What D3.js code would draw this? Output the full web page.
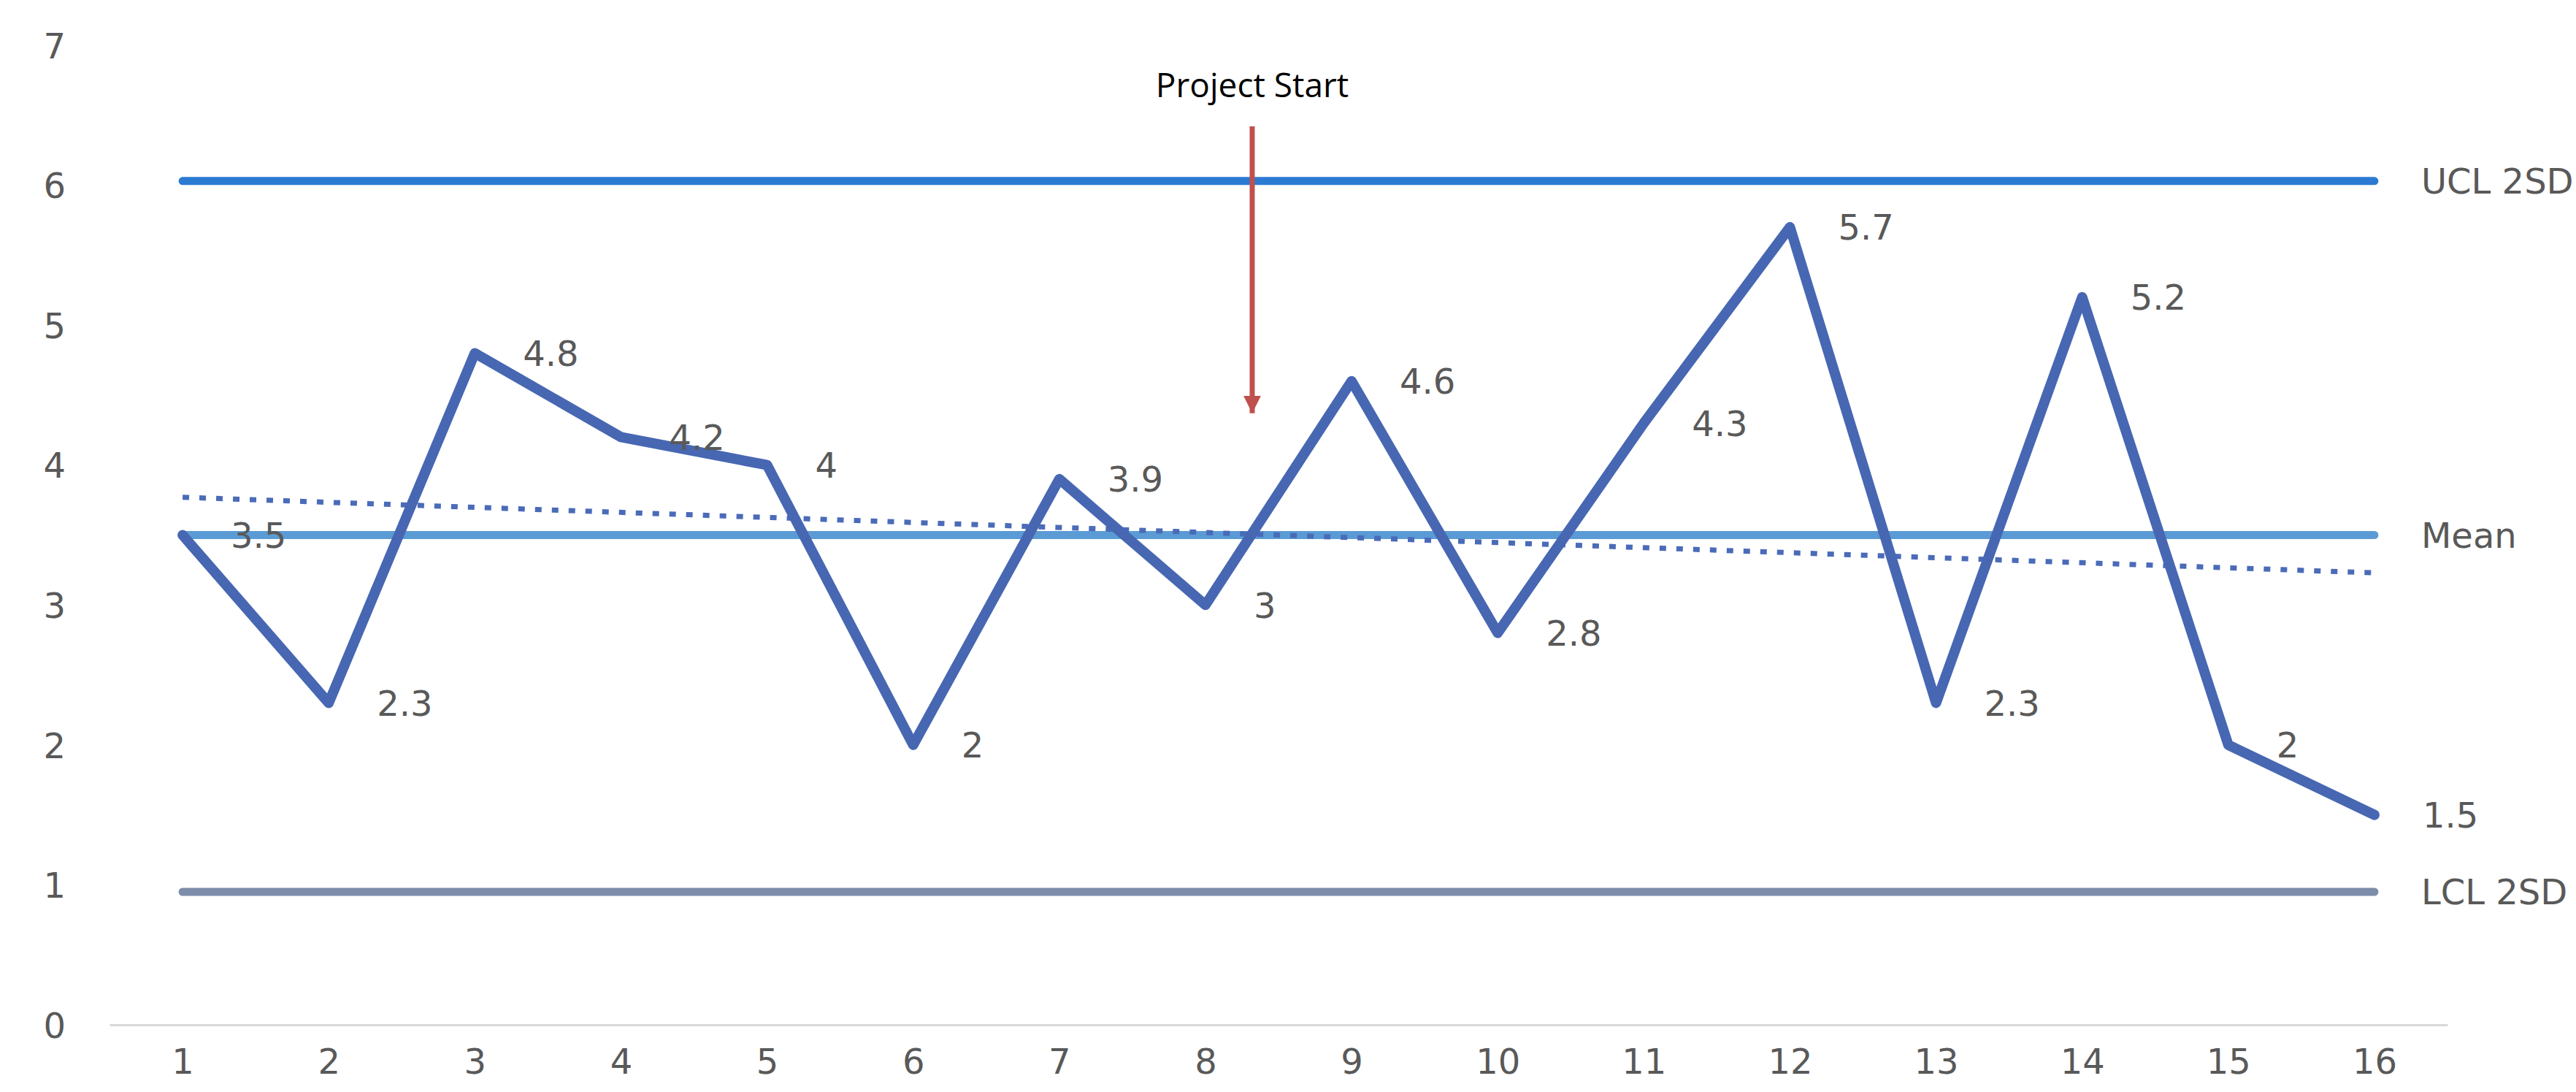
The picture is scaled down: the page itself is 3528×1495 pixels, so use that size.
<!DOCTYPE html>
<html>
<head>
<meta charset="utf-8">
<script src="https://cdn.jsdelivr.net/npm/d3@7"></script>
<style>
  html, body { margin: 0; padding: 0; background: #ffffff; }
  svg { display: block; }
</style>
</head>
<body>
<div id="chart"></div>
<script>
// Run-chart data: one value per period
const periods = [1, 2, 3, 4, 5, 6, 7, 8, 9, 10, 11, 12, 13, 14, 15, 16];
const values = [3.5, 2.3, 4.8, 4.2, 4, 2, 3.9, 3, 4.6, 2.8, 4.3, 5.7, 2.3, 5.2, 2, 1.5];

// Control limits and centre line
const uclValue = 6.03;
const meanValue = 3.5;
const lclValue = 0.95;

// Linear trend line, first and last period
const trendEnds = [3.77, 3.23];

// Axis ticks
const yTicks = [0, 1, 2, 3, 4, 5, 6, 7];

// Annotation marking the start of the project
const projectStart = { period: 8.32, label: "Project Start", labelY: 6.63, arrowTop: 6.42, arrowTip: 4.37 };

const W = 3528, H = 1495;
const textFont = "'DejaVu Sans', sans-serif";
const textColor = "#595959";
const fontSize = 48;

const svg = d3.select("#chart").append("svg")
  .attr("width", W).attr("height", H)
  .attr("viewBox", `0 0 ${W} ${H}`);

const x = d3.scaleLinear().domain([0.5, 16.5]).range([150, 3352]);
const y = d3.scaleLinear().domain([0, 7]).range([1403, 62]);

// Y axis labels (no axis line or ticks)
const yAxis = svg.append("g")
  .attr("transform", "translate(90,0)")
  .call(d3.axisLeft(y).tickValues(yTicks).tickSize(0).tickPadding(0).tickFormat(d3.format("d")));
yAxis.select(".domain").remove();
yAxis.selectAll("text")
  .attr("font-family", textFont).attr("font-size", fontSize)
  .attr("fill", textColor).attr("dy", "0.36em");

// X axis: light baseline and period labels
const xAxis = svg.append("g")
  .attr("transform", `translate(0,${y(0)})`)
  .call(d3.axisBottom(x).tickValues(periods).tickSize(0).tickPadding(50).tickFormat(d3.format("d")));
xAxis.select(".domain").attr("stroke", "#d9d9d9").attr("stroke-width", 3);
xAxis.selectAll("text")
  .attr("font-family", textFont).attr("font-size", fontSize)
  .attr("fill", textColor).attr("dy", "0.36em");

const xFirst = periods[0], xLast = periods[periods.length - 1];

// Horizontal reference lines
const refLines = [
  { value: uclValue, color: "#2c7bd3", label: "UCL 2SD" },
  { value: meanValue, color: "#5b9bd5", label: "Mean" },
  { value: lclValue, color: "#7d8ca9", label: "LCL 2SD" }
];
svg.append("g").selectAll("line").data(refLines).join("line")
  .attr("x1", x(xFirst)).attr("x2", x(xLast))
  .attr("y1", d => y(d.value)).attr("y2", d => y(d.value))
  .attr("stroke", d => d.color).attr("stroke-width", 11)
  .attr("stroke-linecap", "round");

// Dotted linear trend
svg.append("line")
  .attr("x1", x(xFirst)).attr("x2", x(xLast))
  .attr("y1", y(trendEnds[0])).attr("y2", y(trendEnds[1]))
  .attr("stroke", "#4a6bb8").attr("stroke-width", 7)
  .attr("stroke-dasharray", "9 14");

// Measured values
const series = periods.map((p, i) => ({ p, v: values[i] }));
svg.append("path")
  .datum(series)
  .attr("fill", "none")
  .attr("stroke", "#4767b2")
  .attr("stroke-width", 14)
  .attr("stroke-linejoin", "round")
  .attr("stroke-linecap", "round")
  .attr("d", d3.line().x(d => x(d.p)).y(d => y(d.v)));

// Value labels to the right of each point
svg.append("g").selectAll("text").data(series).join("text")
  .attr("x", d => x(d.p) + 66)
  .attr("y", d => y(d.v))
  .attr("dy", "0.36em")
  .attr("font-family", textFont).attr("font-size", fontSize)
  .attr("fill", textColor)
  .text(d => d3.format("")(d.v));

// Reference line names at the right edge
svg.append("g").selectAll("text").data(refLines).join("text")
  .attr("x", x(xLast) + 64)
  .attr("y", d => y(d.value))
  .attr("dy", "0.36em")
  .attr("font-family", textFont).attr("font-size", fontSize)
  .attr("fill", textColor)
  .text(d => d.label);

// Project start annotation
const defs = svg.append("defs");
defs.append("marker")
  .attr("id", "arrowHead")
  .attr("viewBox", "0 0 10 10")
  .attr("refX", 10).attr("refY", 5)
  .attr("markerUnits", "userSpaceOnUse")
  .attr("markerWidth", 24).attr("markerHeight", 24)
  .attr("orient", "auto")
  .append("path")
  .attr("d", "M0,0 L10,5 L0,10 Z")
  .attr("fill", "#c0504d");

svg.append("line")
  .attr("x1", x(projectStart.period)).attr("x2", x(projectStart.period))
  .attr("y1", y(projectStart.arrowTop)).attr("y2", y(projectStart.arrowTip))
  .attr("stroke", "#c0504d").attr("stroke-width", 7)
  .attr("marker-end", "url(#arrowHead)");

svg.append("text")
  .attr("x", x(projectStart.period))
  .attr("y", y(projectStart.labelY))
  .attr("text-anchor", "middle")
  .attr("font-family", "'Open Sans', sans-serif")
  .attr("font-size", 46)
  .attr("fill", "#000000")
  .text(projectStart.label);
</script>
</body>
</html>
